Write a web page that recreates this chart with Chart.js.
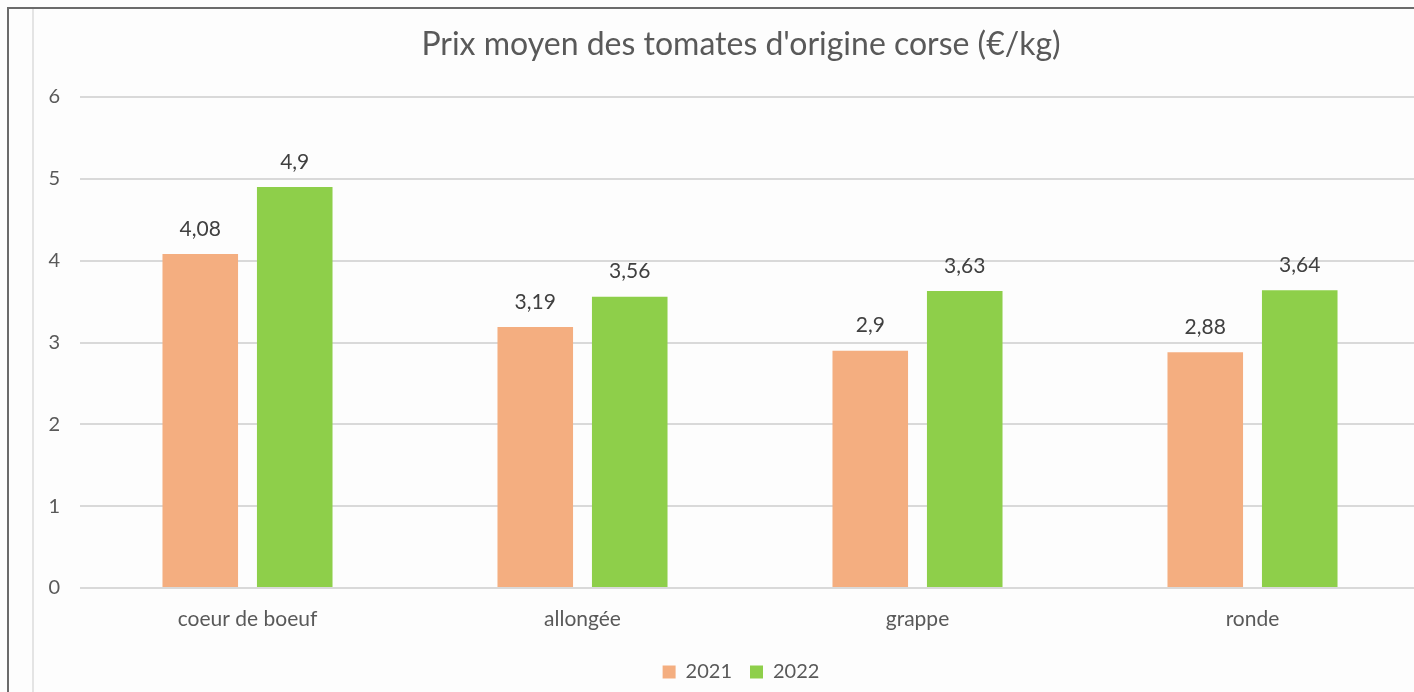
<!DOCTYPE html>
<html>
<head>
<meta charset="utf-8">
<script src="https://cdn.jsdelivr.net/npm/chart.js@4"></script>
<style>
  html, body { margin: 0; padding: 0; background: #fff; overflow: hidden; }
  #wrap { position: relative; width: 1414px; height: 692px; overflow: hidden; background: #fdfdfd; }
  #frameTop { position: absolute; left: 7px; top: 7px; right: 0; height: 2px; background: #6b6b6b; }
  #frameLeft { position: absolute; left: 7px; top: 7px; width: 2px; bottom: 0; background: #6b6b6b; }
  #innerLine { position: absolute; left: 32px; top: 9px; width: 2px; bottom: 0; background: #e4e4e4; }
  #box { position: absolute; left: 20px; top: 0; width: 1442px; height: 692px; }
</style>
</head>
<body>
<div id="wrap">
  <div id="frameTop"></div>
  <div id="frameLeft"></div>
  <div id="innerLine"></div>
  <div id="box"><canvas id="prixChart"></canvas></div>
</div>
<script>
// Prix moyen des tomates corses, 2021 vs 2022
const categories = ['coeur de boeuf', 'allongée', 'grappe', 'ronde'];
const prix2021 = [4.08, 3.19, 2.9, 2.88];
const prix2022 = [4.9, 3.56, 3.63, 3.64];
const yTicks = [0, 1, 2, 3, 4, 5, 6];

const textColor = '#595959';
const fontFam = 'Lato, "Open Sans", sans-serif';

// etiquettes de valeur au-dessus des barres (virgule decimale)
const valueLabels = {
  id: 'valueLabels',
  afterDatasetsDraw(chart) {
    const c = chart.ctx;
    c.save();
    c.font = '21px ' + fontFam;
    c.fillStyle = '#404040';
    c.textAlign = 'center';
    c.textBaseline = 'middle';
    chart.data.datasets.forEach((ds, i) => {
      chart.getDatasetMeta(i).data.forEach((bar, j) => {
        const txt = String(ds.data[j]).replace('.', ',');
        c.fillText(txt, bar.x, bar.y - 25);
      });
    });
    c.restore();
  }
};

const ctx = document.getElementById('prixChart').getContext('2d');
const prixChart = new Chart(ctx, {
  type: 'bar',
  data: {
    labels: categories,
    datasets: [
      {
        label: '2021',
        data: prix2021,
        backgroundColor: '#f4ae80',
        barPercentage: 0.8,
        categoryPercentage: 0.564
      },
      {
        label: '2022',
        data: prix2022,
        backgroundColor: '#8ecf4a',
        barPercentage: 0.8,
        categoryPercentage: 0.564
      }
    ]
  },
  options: {
    responsive: true,
    maintainAspectRatio: false,
    animation: false,
    layout: { padding: { top: 25, right: 0, bottom: 0, left: 0 } },
    plugins: {
      title: {
        display: true,
        text: "Prix moyen des tomates d'origine corse (€/kg)",
        color: textColor,
        font: { family: fontFam, size: 32, weight: 'normal' },
        padding: { top: 0, bottom: 33.6 }
      },
      legend: {
        position: 'bottom',
        labels: {
          color: textColor,
          font: { family: fontFam, size: 20 },
          boxWidth: 13,
          boxHeight: 13,
          padding: 18
        }
      },
      tooltip: { enabled: false }
    },
    scales: {
      x: {
        afterFit(scale) { scale.height = 56; },
        grid: { display: false, drawTicks: false },
        border: { display: false },
        ticks: { color: textColor, font: { family: fontFam, size: 21 }, padding: 19 }
      },
      y: {
        min: 0,
        max: 6,
        afterFit(scale) { scale.width = 60; },
        afterBuildTicks(scale) { scale.ticks = yTicks.map(v => ({ value: v })); },
        grid: { color: '#d9d9d9', lineWidth: 2, drawTicks: false },
        border: { display: false },
        ticks: { color: textColor, font: { family: fontFam, size: 20 }, padding: 20 }
      },
      // axe vide a droite : la zone coupee par le cadre
      yRight: {
        position: 'right',
        min: 0,
        max: 6,
        afterFit(scale) { scale.width = 42; },
        grid: { display: false, drawOnChartArea: false },
        border: { display: false },
        ticks: { display: false }
      }
    }
  },
  plugins: [valueLabels]
});
</script>
</body>
</html>
